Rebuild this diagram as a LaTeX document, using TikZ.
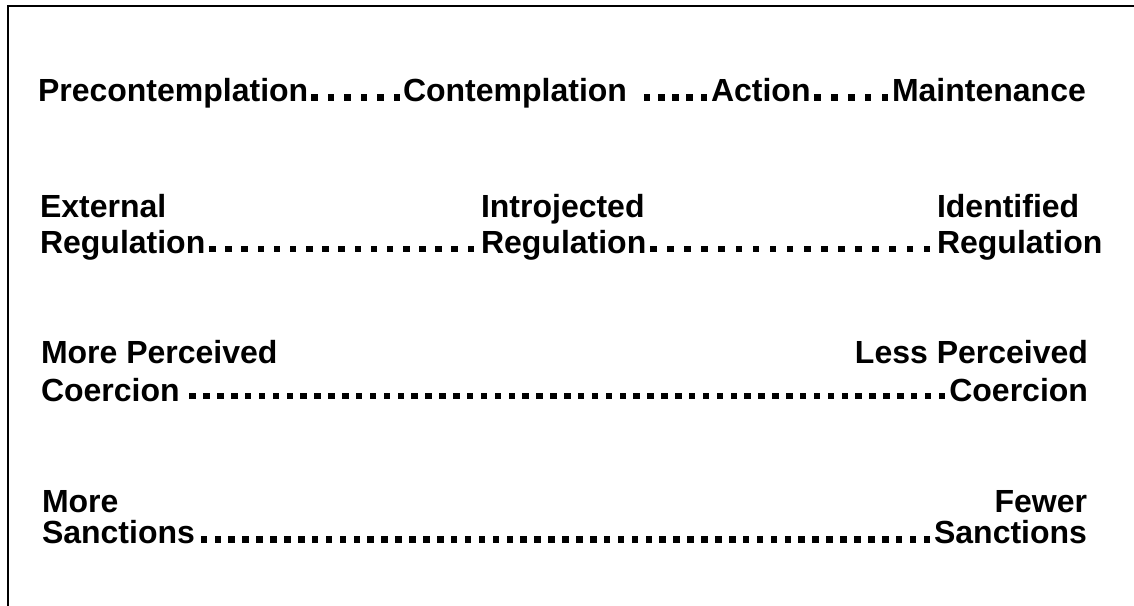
\documentclass[tikz,border=0pt]{standalone}
\usepackage{fontspec}
\usetikzlibrary{decorations.markings}
\setmainfont{Liberation Sans}
\begin{document}
\begin{tikzpicture}[x=1pt,y=-1pt,
  lbl/.style={inner sep=0pt, outer sep=0pt, font=\fontsize{32}{36}\selectfont\bfseries},
  lw/.style={lbl, anchor=base west},
  le/.style={lbl, anchor=base east},
  sqdots/.style={decoration={markings,
      mark=between positions 0 and 1 step {0.99999/(#1-1)} with {\fill (-3.3pt,-3.3pt) rectangle (3.3pt,3.3pt);}},
      decorate},
  frameline/.style={line width=2pt}]
\useasboundingbox (0,0) rectangle (1134,605);
\draw[frameline] (8,606) -- (8,5.5) -- (1135,5.5);

% Row 1
\node[lw] (pre) at (38,101) {Precontemplation};
\node[lw] (con) at (403,101) {Contemplation};
\node[lw] (act) at (711,101) {Action};
\node[lw] (mai) at (892,101) {Maintenance};
\path[sqdots=6] ([xshift=6pt,yshift=3.5pt]pre.base east) -- ([xshift=-6pt,yshift=3.5pt]con.base west);
\path[sqdots=5] ([xshift=20pt,yshift=3.5pt]con.base east) -- ([xshift=-7pt,yshift=3.5pt]act.base west);
\path[sqdots=5] ([xshift=7pt,yshift=3.5pt]act.base east) -- ([xshift=-7pt,yshift=3.5pt]mai.base west);

% Row 2
\node[lw] (ext1) at (40,217) {External};
\node[lw] (ext) at (40,253) {Regulation};
\node[lw] (int1) at (481,217) {Introjected};
\node[lw] (int) at (481,253) {Regulation};
\node[lw] (ide1) at (937,217) {Identified};
\node[lw] (ide) at (937,253) {Regulation};
\path[sqdots=17] ([xshift=7pt,yshift=4pt]ext.base east) -- ([xshift=-10pt,yshift=4pt]int.base west);
\path[sqdots=17] ([xshift=7pt,yshift=4pt]int.base east) -- ([xshift=-10pt,yshift=4pt]ide.base west);

% Row 3
\node[lw] (mp1) at (41,363) {More Perceived};
\node[lw] (mp) at (41,401) {Coercion};
\node[le] (lp1) at (1088,363) {Less Perceived};
\node[le] (lp) at (1088,401) {Coercion};
\path[sqdots=55] ([xshift=13pt,yshift=5pt]mp.base east) -- ([xshift=-7pt,yshift=5pt]lp.base west);

% Row 4
\node[lw] (ms1) at (42,512) {More};
\node[lw] (ms) at (42,543) {Sanctions};
\node[le] (fs1) at (1087,512) {Fewer};
\node[le] (fs) at (1087,543) {Sanctions};
\path[sqdots=53] ([xshift=9pt,yshift=3.5pt]ms.base east) -- ([xshift=-7pt,yshift=3.5pt]fs.base west);
\end{tikzpicture}
\end{document}
